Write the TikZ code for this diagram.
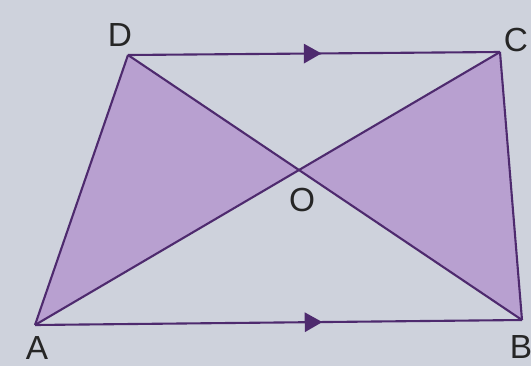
\documentclass[tikz,border=0pt]{standalone}
\usepackage{fontspec}
\setmainfont{Liberation Sans}
\usetikzlibrary{arrows.meta,decorations.markings}
\definecolor{paper}{RGB}{206,210,220}
\definecolor{trifill}{RGB}{184,160,208}
\definecolor{edge}{RGB}{78,42,110}
\tikzset{
  side/.style={edge, line width=1.2pt},
  parallel/.style={side, decoration={markings,
      mark=at position #1 with {\arrow{Triangle[length=10pt,width=11pt]}}},
      postaction={decorate}},
  vlabel/.style={font=\fontsize{19}{20}\selectfont, text=black!85, inner sep=0pt}
}

\begin{document}
\begin{tikzpicture}
    \fill[paper] (0,0) rectangle (10.62,7.32);
    \useasboundingbox (0,0) rectangle (10.62,7.32);

    \coordinate (A) at (0.70,0.82);
    \coordinate (B) at (10.44,0.92);
    \coordinate (C) at (10.00,6.28);
    \coordinate (D) at (2.56,6.22);
    % O is where the diagonals cross
    \coordinate (O) at (intersection of A--C and D--B);

    % shaded triangles AOD and BOC
    \fill[trifill] (A) -- (O) -- (D) -- cycle;
    \fill[trifill] (B) -- (O) -- (C) -- cycle;

    % parallel sides DC and AB
    \draw[parallel=0.52] (D) -- (C);
    \draw[parallel=0.59] (A) -- (B);

    % the other sides and the diagonals
    \draw[side] (A) -- (D);
    \draw[side] (B) -- (C);
    \draw[side] (A) -- (C);
    \draw[side] (D) -- (B);

    \node[vlabel] (lD) at (2.40,6.62) {D};
    \node[vlabel] (lC) at (10.32,6.52) {C};
    \node[vlabel] (lO) at (6.04,3.32) {O};
    \node[vlabel] (lA) at (0.74,0.36) {A};
    \node[vlabel] (lB) at (10.42,0.38) {B};
\end{tikzpicture}
\end{document}
